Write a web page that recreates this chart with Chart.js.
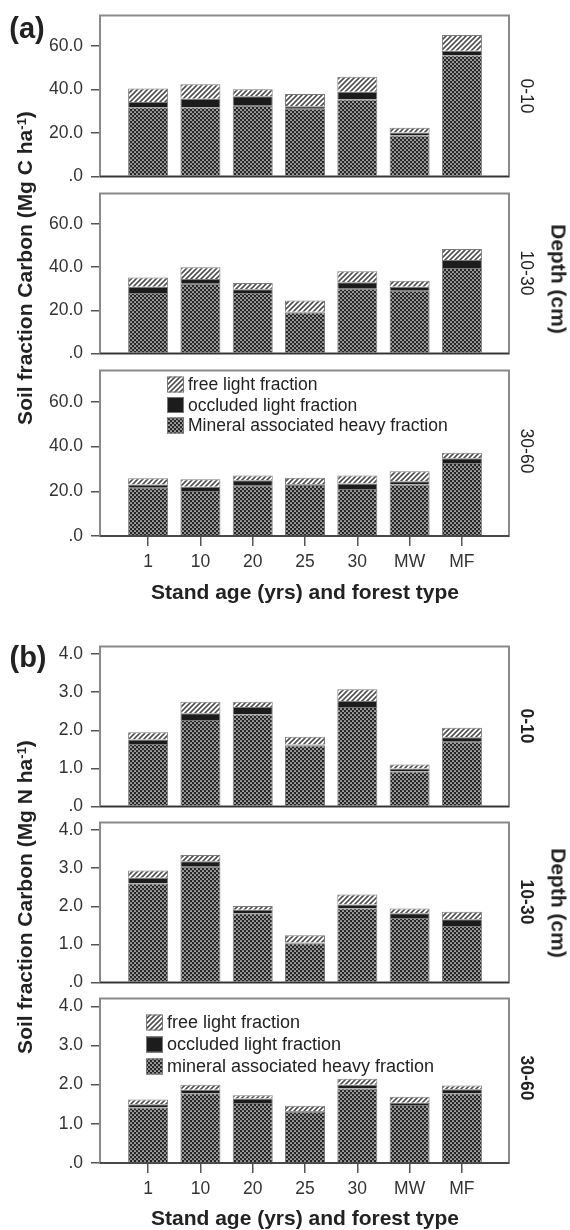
<!DOCTYPE html>
<html>
<head>
<meta charset="utf-8">
<script src="https://cdn.jsdelivr.net/npm/chart.js@4.4.1/dist/chart.umd.min.js"></script>
<style>
  body { margin: 0; background: #fff; }
  #page { position: relative; width: 570px; height: 1230px; overflow: hidden; background: #fff;
          font-family: "Liberation Sans", Arial, sans-serif; color: #222; }
  #page canvas { position: absolute; left: 0; }
  .lbl { position: absolute; white-space: nowrap; line-height: 1; transform: translate(-50%, -50%); }
  .up { transform: translate(-50%, -50%) rotate(-90deg); }
  .down { transform: translate(-50%, -50%) rotate(90deg); }
  .sup { position: relative; top: -0.45em; font-size: 0.62em; }
</style>
</head>
<body>
<div id="page"></div>
<script>
'use strict';

var categories = ['1', '10', '20', '25', '30', 'MW', 'MF'];
var depths = ['0-10', '10-30', '30-60'];
var namesC = ['free light fraction', 'occluded light fraction', 'Mineral associated heavy fraction'];
var namesN = ['free light fraction', 'occluded light fraction', 'mineral associated heavy fraction'];
var carbonTicks = [0, 20, 40, 60];
var nitrogenTicks = [0, 1, 2, 3, 4];

// (a) carbon, Mg C ha-1
var cHeavy0to10 = [31.8, 31.8, 32.5, 31.1, 35.4, 18.8, 55.7];
var cOccl0to10 = [2.4, 3.9, 4.4, 1.2, 3.6, 1.4, 2.1];
var cFree0to10 = [6.2, 6.7, 3.2, 5.6, 6.9, 2.2, 7.2];
var cHeavy10to30 = [28.0, 32.3, 28.0, 19.0, 30.0, 29.0, 39.6];
var cOccl10to30 = [2.9, 2.2, 1.7, 0.3, 2.9, 1.9, 3.6];
var cFree10to30 = [4.3, 5.4, 2.9, 5.2, 5.1, 2.7, 5.1];
var cHeavy30to60 = [21.6, 20.1, 22.5, 22.8, 21.0, 23.0, 32.6];
var cOccl30to60 = [1.4, 1.9, 2.4, 0.3, 2.5, 1.5, 2.2];
var cFree30to60 = [2.8, 3.4, 2.2, 3.0, 3.5, 4.5, 2.4];

// (b) nitrogen, Mg N ha-1
var nHeavy0to10 = [1.64, 2.27, 2.42, 1.60, 2.61, 0.92, 1.70];
var nOccl0to10 = [0.12, 0.18, 0.19, 0.03, 0.16, 0.08, 0.12];
var nFree0to10 = [0.19, 0.30, 0.14, 0.20, 0.31, 0.10, 0.25];
var nHeavy10to30 = [2.60, 3.04, 1.82, 1.03, 1.95, 1.69, 1.48];
var nOccl10to30 = [0.15, 0.14, 0.09, 0.02, 0.10, 0.13, 0.18];
var nFree10to30 = [0.19, 0.17, 0.10, 0.19, 0.26, 0.12, 0.20];
var nHeavy30to60 = [1.42, 1.78, 1.53, 1.31, 1.90, 1.48, 1.78];
var nOccl30to60 = [0.08, 0.09, 0.12, 0.02, 0.10, 0.06, 0.10];
var nFree30to60 = [0.12, 0.13, 0.08, 0.13, 0.15, 0.15, 0.10];

var FONT = '"Liberation Sans", Arial, sans-serif';
var page = document.getElementById('page');

function makeHatch() {
    var c = document.createElement('canvas');
    c.width = c.height = 5;
    var g = c.getContext('2d');
    g.fillStyle = '#fff';
    g.fillRect(0, 0, 5, 5);
    g.strokeStyle = '#505050';
    g.lineWidth = 1.6;
    g.beginPath();
    g.moveTo(-1, 6); g.lineTo(6, -1);
    g.moveTo(-1, 1); g.lineTo(1, -1);
    g.moveTo(4, 6); g.lineTo(6, 4);
    g.stroke();
    return g.createPattern(c, 'repeat');
}

function makeDots() {
    var c = document.createElement('canvas');
    c.width = c.height = 4;
    var g = c.getContext('2d');
    g.fillStyle = '#262626';
    g.fillRect(0, 0, 4, 4);
    g.fillStyle = '#fff';
    [[1, 1], [3, 3]].forEach(function (p) {
        g.beginPath();
        g.arc(p[0], p[1], 0.85, 0, Math.PI * 2);
        g.fill();
    });
    return g.createPattern(c, 'repeat');
}

var hatch = makeHatch();
var dots = makeDots();
var black = '#1c1c1c';

var framePlugin = {
    id: 'frame',
    afterDatasetsDraw: function (chart) {
        var a = chart.chartArea, ctx = chart.ctx;
        ctx.save();
        ctx.strokeStyle = '#8a8a8a';
        ctx.lineWidth = 2;
        ctx.strokeRect(a.left, a.top, a.right - a.left, a.bottom - a.top);
        ctx.strokeStyle = '#333';
        ctx.lineWidth = 1.5;
        ctx.beginPath();
        ctx.moveTo(a.left, a.bottom);
        ctx.lineTo(a.right, a.bottom);
        ctx.stroke();
        ctx.restore();
    }
};

var legendPlugin = {
    id: 'fracLegend',
    afterDraw: function (chart, args, opts) {
        if (!opts || opts.dx === undefined) return;
        var a = chart.chartArea, ctx = chart.ctx;
        var names = opts.set === 'N' ? namesN : namesC;
        var fills = [hatch, black, dots];
        ctx.save();
        ctx.font = opts.size + 'px ' + FONT;
        ctx.textBaseline = 'middle';
        names.forEach(function (name, i) {
            var x = a.left + opts.dx, y = a.top + opts.dy + i * opts.gap;
            ctx.fillStyle = fills[i];
            ctx.fillRect(x, y - 8, 17, 16);
            ctx.strokeStyle = '#777';
            ctx.lineWidth = 1;
            ctx.strokeRect(x + 0.5, y - 7.5, 16, 15);
            ctx.fillStyle = '#222';
            ctx.fillText(name, x + 21, y + 1);
        });
        ctx.restore();
    }
};

function pts(arr) {
    return arr.map(function (v, i) { return {x: i, y: v}; });
}

function fmt(v) {
    return v === 0 ? '.0' : v.toFixed(1);
}

function makeChart(p) {
    var pad = 14;
    var axisH = p.last ? 48 : 0;
    var canvas = document.createElement('canvas');
    canvas.width = 570;
    canvas.height = (p.bottom - p.top) + pad + (p.last ? axisH : pad);
    canvas.style.top = (p.top - pad) + 'px';
    page.appendChild(canvas);

    var names = p.set === 'N' ? namesN : namesC;
    var tickFont = {family: FONT, size: 17.5};

    new Chart(canvas, {
        type: 'bar',
        data: {
            datasets: [
                {label: names[2], data: pts(p.heavy), backgroundColor: dots, stack: 's'},
                {label: names[1], data: pts(p.occl), backgroundColor: black, stack: 's'},
                {label: names[0], data: pts(p.free), backgroundColor: hatch, stack: 's'}
            ]
        },
        options: {
            responsive: false,
            animation: false,
            events: [],
            layout: {padding: {left: 0, right: 61, top: pad, bottom: p.last ? 0 : pad}},
            datasets: {
                bar: {borderColor: '#7a7a7a', borderWidth: 1, barPercentage: 0.765, categoryPercentage: 1}
            },
            plugins: {
                legend: {display: false},
                tooltip: {enabled: false},
                fracLegend: p.legend || {}
            },
            scales: {
                x: {
                    type: 'linear',
                    min: -0.92,
                    max: 6.9,
                    offset: false,
                    afterBuildTicks: function (s) {
                        s.ticks = categories.map(function (c, i) { return {value: i}; });
                    },
                    afterFit: function (s) { s.height = axisH; },
                    ticks: {
                        display: !!p.last,
                        callback: function (v) { return categories[v]; },
                        font: tickFont,
                        color: '#333',
                        padding: 6,
                        maxRotation: 0
                    },
                    grid: {offset: false, drawOnChartArea: false, drawTicks: !!p.last, tickLength: 10,
                        color: '#555', lineWidth: 1.5},
                    border: {display: false}
                },
                y: {
                    min: 0,
                    max: p.max,
                    stacked: true,
                    afterBuildTicks: function (s) {
                        s.ticks = p.ticks.map(function (v) { return {value: v}; });
                    },
                    afterFit: function (s) { s.width = 100; },
                    ticks: {callback: fmt, font: tickFont, color: '#333', padding: 8},
                    grid: {drawOnChartArea: false, drawTicks: true, tickLength: 9, color: '#555', lineWidth: 1.5},
                    border: {display: false}
                }
            }
        },
        plugins: [framePlugin, legendPlugin]
    });
}

var subplots = [
    {top: 11, bottom: 181, max: 74, ticks: carbonTicks, set: 'C',
        heavy: cHeavy0to10, occl: cOccl0to10, free: cFree0to10},
    {top: 189, bottom: 358, max: 74, ticks: carbonTicks, set: 'C',
        heavy: cHeavy10to30, occl: cOccl10to30, free: cFree10to30},
    {top: 366, bottom: 536, max: 74, ticks: carbonTicks, set: 'C', last: true,
        heavy: cHeavy30to60, occl: cOccl30to60, free: cFree30to60,
        legend: {dx: 67, dy: 14, gap: 20.5, size: 17.5, set: 'C'}},
    {top: 642, bottom: 811, max: 4.2, ticks: nitrogenTicks, set: 'N',
        heavy: nHeavy0to10, occl: nOccl0to10, free: nFree0to10},
    {top: 818, bottom: 987, max: 4.2, ticks: nitrogenTicks, set: 'N',
        heavy: nHeavy10to30, occl: nOccl10to30, free: nFree10to30},
    {top: 994, bottom: 1163, max: 4.2, ticks: nitrogenTicks, set: 'N', last: true,
        heavy: nHeavy30to60, occl: nOccl30to60, free: nFree30to60,
        legend: {dx: 46, dy: 24, gap: 22, size: 18, set: 'N'}}
];

subplots.forEach(makeChart);

// text around the plots
function label(html, x, y, css, cls) {
    var d = document.createElement('div');
    d.className = 'lbl' + (cls ? ' ' + cls : '');
    d.innerHTML = html;
    d.style.left = x + 'px';
    d.style.top = y + 'px';
    d.style.cssText += css;
    page.appendChild(d);
}

var bold = 'font-weight:bold;';
label('(a)', 27, 28, bold + 'font-size:29px;');
label('(b)', 28, 657, bold + 'font-size:29px;');
label('Soil fraction Carbon (Mg C ha<span class="sup">-1</span>)', 24, 268, bold + 'font-size:21px;', 'up');
label('Soil fraction Carbon (Mg N ha<span class="sup">-1</span>)', 24, 897, bold + 'font-size:21px;', 'up');
label('Stand age (yrs) and forest type', 305, 591, bold + 'font-size:21px;');
label('Stand age (yrs) and forest type', 305, 1217, bold + 'font-size:21px;');
label('Depth (cm)', 559, 279, bold + 'font-size:21px;', 'down');
label('Depth (cm)', 559, 903, bold + 'font-size:21px;', 'down');
[96, 273, 451].forEach(function (y, i) { label(depths[i], 526, y, 'font-size:17.5px;', 'down'); });
[726, 902, 1078].forEach(function (y, i) { label(depths[i], 526, y, bold + 'font-size:17.5px;', 'down'); });
</script>
</body>
</html>
